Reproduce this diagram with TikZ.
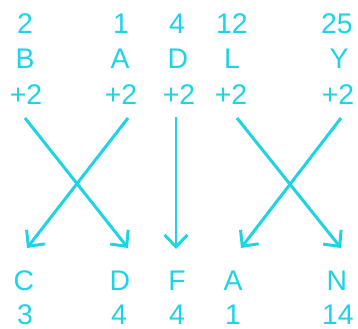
\documentclass[tikz,border=0pt]{standalone}
\usepackage{fontspec}
\setmainfont{Liberation Sans}
\usetikzlibrary{arrows.meta}
\definecolor{cy}{RGB}{30,212,228}
\tikzset{
  lbl/.style={text=cy, font=\fontsize{28.5}{34}\selectfont, anchor=base, inner sep=0pt},
  arr/.style={draw=cy, line width=3pt, -{Straight Barb[length=12pt,width=23pt,line width=3pt]}}
}
\begin{document}
\begin{tikzpicture}[x=1bp,y=-1bp]
\useasboundingbox (0,0) rectangle (358,329);
% top row
\node[lbl] (n1) at (25,33) {2};
\node[lbl] (l1) at (25,68) {B};
\node[lbl] (p1) at (26,104) {+2};
\node[lbl] (n2) at (121,33) {1};
\node[lbl] (l2) at (120,68) {A};
\node[lbl] (p2) at (121,104) {+2};
\node[lbl] (n3) at (177,33) {4};
\node[lbl] (l3) at (178,68) {D};
\node[lbl] (p3) at (179,104) {+2};
\node[lbl] (n4) at (232,33) {12};
\node[lbl] (l4) at (232,68) {L};
\node[lbl] (p4) at (231,104) {+2};
\node[lbl] (n5) at (337,33) {25};
\node[lbl] (l5) at (339,68) {Y};
\node[lbl] (p5) at (338,104) {+2};
% bottom row
\node[lbl] (b1) at (24,290) {C};
\node[lbl] (d1) at (25,324) {3};
\node[lbl] (b2) at (120,290) {D};
\node[lbl] (d2) at (119,324) {4};
\node[lbl] (b3) at (177,290) {F};
\node[lbl] (d3) at (177,324) {4};
\node[lbl] (b4) at (233,290) {A};
\node[lbl] (d4) at (233,324) {1};
\node[lbl] (b5) at (337,290) {N};
\node[lbl] (d5) at (338,324) {14};
% arrow ends
\coordinate (s1) at (25,118);
\coordinate (s2) at (128,118);
\coordinate (s3) at (176,117);
\coordinate (s4) at (237,118);
\coordinate (s5) at (341,118);
\coordinate (e1) at (27,248);
\coordinate (e2) at (128,248);
\coordinate (e3) at (176,249);
\coordinate (e4) at (241,248);
\coordinate (e5) at (341,248);
\draw[arr] (s1) -- (e2);
\draw[arr] (s2) -- (e1);
\draw[arr] (s3) -- (e3);
\draw[arr] (s4) -- (e5);
\draw[arr] (s5) -- (e4);
\end{tikzpicture}
\end{document}
